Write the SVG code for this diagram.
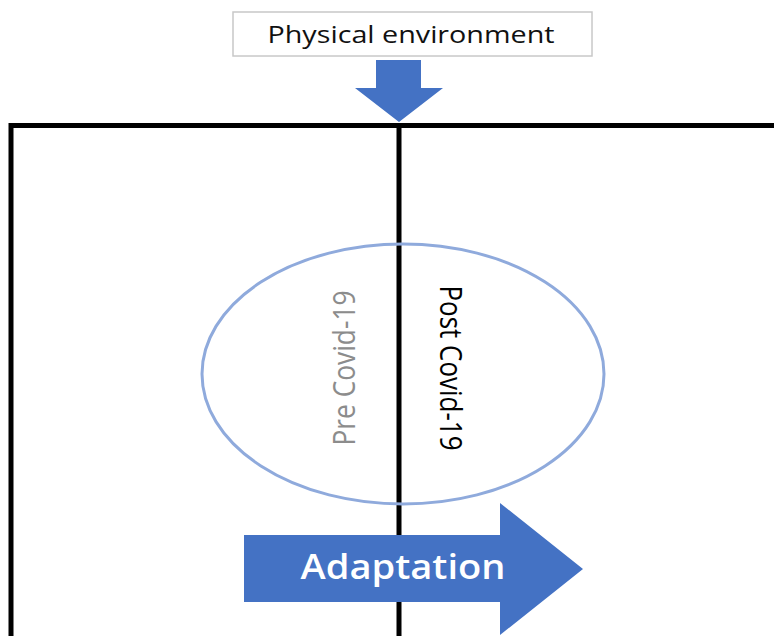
<svg xmlns="http://www.w3.org/2000/svg" width="774" height="636" viewBox="0 0 774 636">
  <style>
    .frame { fill: none; stroke: #000; stroke-width: 5; }
    .blue { fill: #4472c4; }
    .label { font-family: "Open Sans", "Noto Sans", "Liberation Sans", sans-serif; }
  </style>
  <rect width="774" height="636" fill="#fff"/>

  <g id="physical-environment">
    <rect x="233" y="12" width="359" height="44" fill="#fff" stroke="#c8c8c8" stroke-width="1.5"/>
    <text class="label" x="411" y="43" font-size="23" text-anchor="middle" fill="#111" textLength="287" lengthAdjust="spacingAndGlyphs">Physical environment</text>
  </g>

  <g id="connectors">
    <!-- downward block arrow into the frame -->
    <path class="blue" d="M376 60 H421 V88 H443 L399 122 L355 88 H376 Z"/>
  </g>

  <g id="frame">
    <path class="frame" d="M11 640 V125.5 H780"/>
    <line x1="399" y1="123" x2="399" y2="640" stroke="#000" stroke-width="5"/>
  </g>

  <g id="covid-ellipse">
    <ellipse cx="403" cy="374" rx="201" ry="130" fill="none" stroke="#8faadc" stroke-width="3"/>
    <text class="label" font-size="31" fill="#8c8c8c" text-anchor="middle" textLength="155" lengthAdjust="spacingAndGlyphs" transform="translate(355 368) rotate(-90)">Pre Covid-19</text>
    <text class="label" font-size="31" fill="#000" text-anchor="middle" textLength="165" lengthAdjust="spacingAndGlyphs" transform="translate(440 368) rotate(90)">Post Covid-19</text>
  </g>

  <g id="adaptation">
    <path class="blue" d="M244 535 H500 V503 L583 569 L500 635 V602 H244 Z"/>
    <text class="label" x="403" y="579" font-size="34" font-weight="600" fill="#fff" text-anchor="middle" textLength="205" lengthAdjust="spacingAndGlyphs">Adaptation</text>
  </g>
</svg>
